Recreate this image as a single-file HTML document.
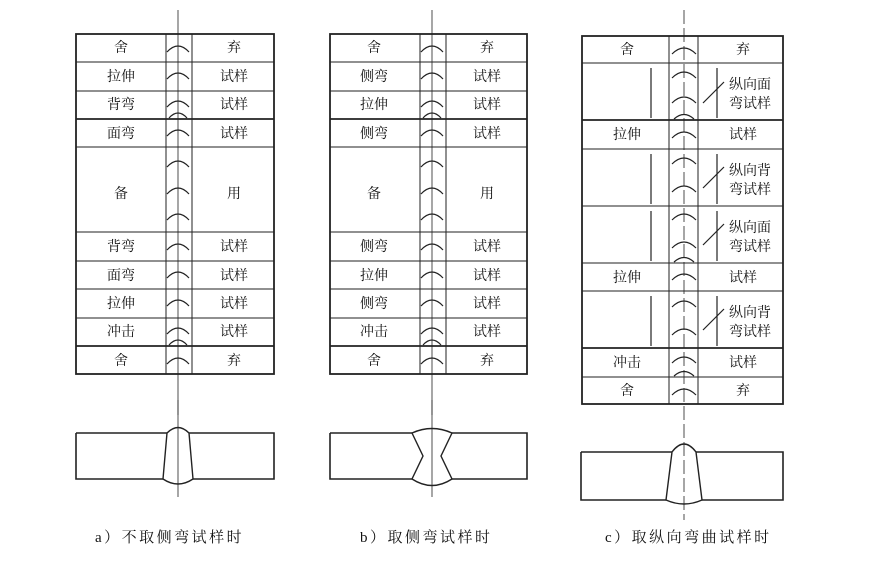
<!DOCTYPE html>
<html><head><meta charset="utf-8"><style>
html,body{margin:0;padding:0;background:#fff;width:875px;height:566px;overflow:hidden}
text{font-family:"Liberation Serif","Noto Serif CJK SC","Noto Sans CJK SC",serif;font-size:14px;fill:#111}
</style></head><body>
<svg width="875" height="566" viewBox="0 0 875 566" xmlns="http://www.w3.org/2000/svg">
<g stroke="#222" fill="none" stroke-width="1">
<!-- Panel a -->
<rect x="76" y="34" width="198" height="340" stroke-width="1.8"/>
<line x1="166" y1="34" x2="166" y2="374"/><line x1="192" y1="34" x2="192" y2="374"/>
<line x1="178" y1="10" x2="178" y2="415" stroke-width="0.8"/>
<line x1="76" y1="62" x2="274" y2="62"/><line x1="76" y1="91" x2="274" y2="91"/>
<line x1="76" y1="119" x2="274" y2="119" stroke-width="1.8"/><line x1="76" y1="147" x2="274" y2="147"/>
<line x1="76" y1="232" x2="274" y2="232"/><line x1="76" y1="261" x2="274" y2="261"/>
<line x1="76" y1="289" x2="274" y2="289"/><line x1="76" y1="318" x2="274" y2="318"/>
<line x1="76" y1="346" x2="274" y2="346" stroke-width="1.8"/>
<g stroke-width="1.2">
<path d="M167 52Q178 40 189 52"/><path d="M167 79Q178 67 189 79"/><path d="M167 107Q178 95 189 107"/><path d="M169 118Q178 108 187 118"/>
<path d="M167 136Q178 124 189 136"/><path d="M167 167Q178 155 189 167"/><path d="M167 194Q178 182 189 194"/><path d="M167 220Q178 208 189 220"/>
<path d="M167 250Q178 238 189 250"/><path d="M167 278Q178 266 189 278"/><path d="M167 306Q178 294 189 306"/><path d="M167 334Q178 322 189 334"/><path d="M169 345Q178 335 187 345"/><path d="M167 364Q178 352 189 364"/>
</g>
<!-- Panel b -->
<rect x="330" y="34" width="197" height="340" stroke-width="1.8"/>
<line x1="420" y1="34" x2="420" y2="374"/><line x1="446" y1="34" x2="446" y2="374"/>
<line x1="432" y1="10" x2="432" y2="415" stroke-width="0.8"/>
<line x1="330" y1="62" x2="527" y2="62"/><line x1="330" y1="91" x2="527" y2="91"/>
<line x1="330" y1="119" x2="527" y2="119" stroke-width="1.8"/><line x1="330" y1="147" x2="527" y2="147"/>
<line x1="330" y1="232" x2="527" y2="232"/><line x1="330" y1="261" x2="527" y2="261"/>
<line x1="330" y1="289" x2="527" y2="289"/><line x1="330" y1="318" x2="527" y2="318"/>
<line x1="330" y1="346" x2="527" y2="346" stroke-width="1.8"/>
<g stroke-width="1.2">
<path d="M421 52Q432 40 443 52"/><path d="M421 79Q432 67 443 79"/><path d="M421 107Q432 95 443 107"/><path d="M423 118Q432 108 441 118"/>
<path d="M421 136Q432 124 443 136"/><path d="M421 167Q432 155 443 167"/><path d="M421 194Q432 182 443 194"/><path d="M421 220Q432 208 443 220"/>
<path d="M421 250Q432 238 443 250"/><path d="M421 278Q432 266 443 278"/><path d="M421 306Q432 294 443 306"/><path d="M421 334Q432 322 443 334"/><path d="M423 345Q432 335 441 345"/><path d="M421 364Q432 352 443 364"/>
</g>
<!-- Panel c -->
<rect x="582" y="36" width="201" height="368" stroke-width="1.8"/>
<line x1="669" y1="36" x2="669" y2="404"/><line x1="698" y1="36" x2="698" y2="404"/>
<line x1="684" y1="10" x2="684" y2="520" stroke-width="0.8" stroke-dasharray="14 4"/>
<line x1="582" y1="63" x2="783" y2="63"/><line x1="582" y1="120" x2="783" y2="120" stroke-width="1.8"/>
<line x1="582" y1="149" x2="783" y2="149"/><line x1="582" y1="206" x2="783" y2="206"/>
<line x1="582" y1="263" x2="783" y2="263"/><line x1="582" y1="291" x2="783" y2="291"/>
<line x1="582" y1="348" x2="783" y2="348" stroke-width="1.8"/><line x1="582" y1="377" x2="783" y2="377"/>
<g stroke-width="1.2">
<line x1="651" y1="68" x2="651" y2="118"/><line x1="717" y1="68" x2="717" y2="118"/>
<line x1="651" y1="154" x2="651" y2="204"/><line x1="717" y1="154" x2="717" y2="204"/>
<line x1="651" y1="211" x2="651" y2="261"/><line x1="717" y1="211" x2="717" y2="261"/>
<line x1="651" y1="296" x2="651" y2="346"/><line x1="717" y1="296" x2="717" y2="346"/>
<line x1="703" y1="103" x2="724" y2="82"/><line x1="703" y1="188" x2="724" y2="167"/>
<line x1="703" y1="245" x2="724" y2="224"/><line x1="703" y1="330" x2="724" y2="309"/>
<path d="M672 54Q684 42 696 54"/><path d="M672 78Q684 66 696 78"/><path d="M672 103Q684 91 696 103"/><path d="M674 119Q684 110 694 119"/>
<path d="M672 138Q684 126 696 138"/><path d="M672 164Q684 152 696 164"/><path d="M672 192Q684 180 696 192"/>
<path d="M672 220Q684 208 696 220"/><path d="M672 248Q684 236 696 248"/><path d="M674 262Q684 253 694 262"/>
<path d="M672 280Q684 268 696 280"/><path d="M672 307Q684 295 696 307"/><path d="M672 335Q684 323 696 335"/>
<path d="M672 363Q684 351 696 363"/><path d="M674 376Q684 367 694 376"/><path d="M672 395Q684 383 696 395"/>
</g>
<!-- plates -->
<path d="M76 433H167M189 433H274V479H193M163 479H76V433" stroke-width="1.6"/>
<path d="M167 433Q178 422 189 433L193 479Q178 489 163 479Z" stroke-width="1.4"/>
<line x1="178" y1="400" x2="178" y2="497" stroke-width="0.8"/>
<path d="M330 433H412M452 433H527V479H452M412 479H330V433" stroke-width="1.6"/>
<path d="M412 433Q432 424 452 433L441 456L452 479Q432 492 412 479L423 456Z" stroke-width="1.4"/>
<line x1="432" y1="400" x2="432" y2="497" stroke-width="0.8"/>
<path d="M581 452H672M696 452H783V500H702M666 500H581V452" stroke-width="1.6"/>
<path d="M672 452Q684 436 696 452L702 500Q684 508 666 500Z" stroke-width="1.4"/>
</g>
<g text-anchor="middle">
<text x="121" y="52">舍</text><text x="234" y="52">弃</text>
<text x="121" y="81">拉伸</text><text x="234" y="81">试样</text>
<text x="121" y="109">背弯</text><text x="234" y="109">试样</text>
<text x="121" y="138">面弯</text><text x="234" y="138">试样</text>
<text x="121" y="198">备</text><text x="234" y="198">用</text>
<text x="121" y="251">背弯</text><text x="234" y="251">试样</text>
<text x="121" y="280">面弯</text><text x="234" y="280">试样</text>
<text x="121" y="308">拉伸</text><text x="234" y="308">试样</text>
<text x="121" y="336">冲击</text><text x="234" y="336">试样</text>
<text x="121" y="365">舍</text><text x="234" y="365">弃</text>

<text x="374" y="52">舍</text><text x="487" y="52">弃</text>
<text x="374" y="81">侧弯</text><text x="487" y="81">试样</text>
<text x="374" y="109">拉伸</text><text x="487" y="109">试样</text>
<text x="374" y="138">侧弯</text><text x="487" y="138">试样</text>
<text x="374" y="198">备</text><text x="487" y="198">用</text>
<text x="374" y="251">侧弯</text><text x="487" y="251">试样</text>
<text x="374" y="280">拉伸</text><text x="487" y="280">试样</text>
<text x="374" y="308">侧弯</text><text x="487" y="308">试样</text>
<text x="374" y="336">冲击</text><text x="487" y="336">试样</text>
<text x="374" y="365">舍</text><text x="487" y="365">弃</text>

<text x="627" y="54">舍</text><text x="743" y="54">弃</text>
<text x="627" y="139">拉伸</text><text x="743" y="139">试样</text>
<text x="627" y="282">拉伸</text><text x="743" y="282">试样</text>
<text x="627" y="367">冲击</text><text x="743" y="367">试样</text>
<text x="627" y="395">舍</text><text x="743" y="395">弃</text>
<text x="750" y="89">纵向面</text><text x="750" y="108">弯试样</text>
<text x="750" y="175">纵向背</text><text x="750" y="194">弯试样</text>
<text x="750" y="232">纵向面</text><text x="750" y="251">弯试样</text>
<text x="750" y="317">纵向背</text><text x="750" y="336">弯试样</text>
</g>
<text x="95" y="542" style="font-size:15px;letter-spacing:2.5px">a）不取侧弯试样时</text>
<text x="360" y="542" style="font-size:15px;letter-spacing:2.5px">b）取侧弯试样时</text>
<text x="605" y="542" style="font-size:15px;letter-spacing:2.5px">c）取纵向弯曲试样时</text>
</svg>
</body></html>
